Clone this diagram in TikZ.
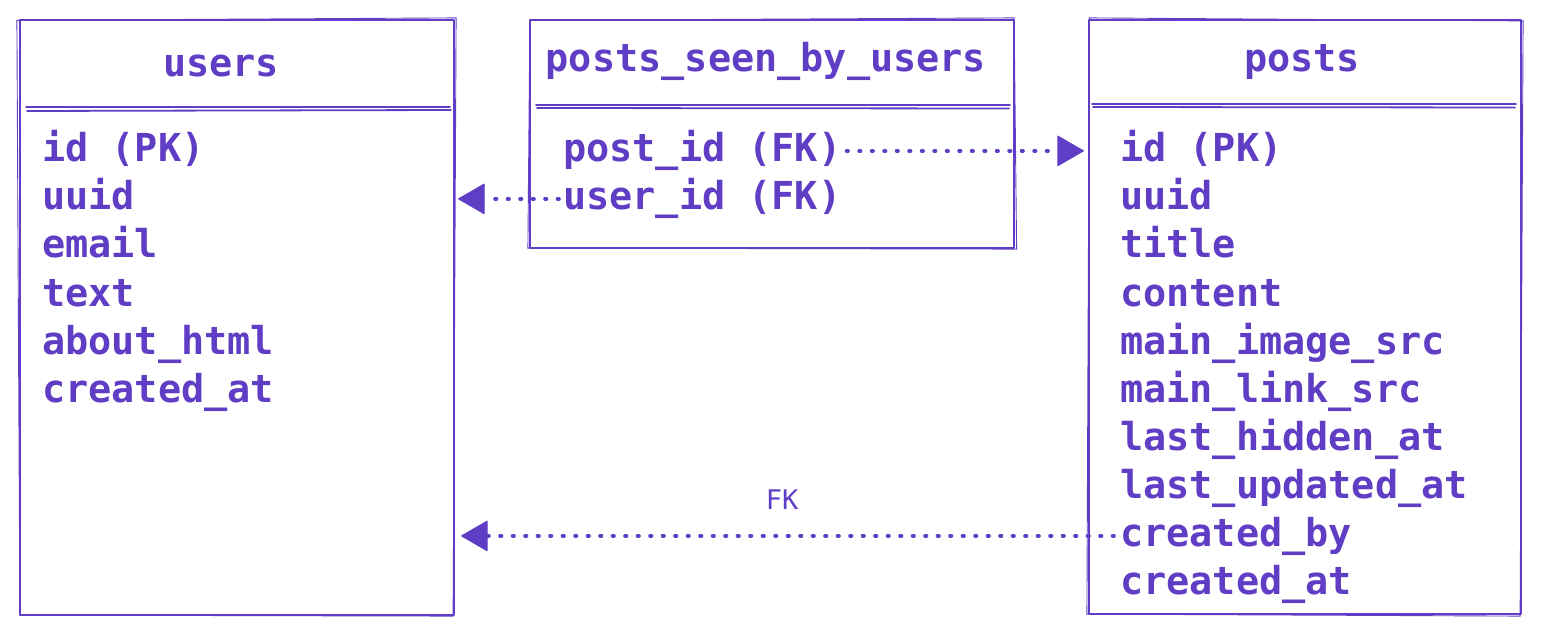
\documentclass[tikz,border=0pt]{standalone}
\usepackage{fontspec}
\newfontfamily\fmono{DejaVu Sans Mono}
\usetikzlibrary{arrows.meta}
\definecolor{vio}{HTML}{5F3DC4}
\tikzset{
  tbl/.style={draw=vio, line width=2.2pt, inner sep=0pt, line join=round},
  sketch/.style={draw=vio, line width=0.9pt, line cap=round},
  sepline/.style={draw=vio, line width=1.8pt, line cap=round},
  field/.style={anchor=base west, inner sep=0pt, text=vio, font=\fmono\bfseries\fontsize{38.5}{40}\selectfont},
  head/.style={anchor=base, inner sep=0pt, text=vio, font=\fmono\bfseries\fontsize{38.5}{40}\selectfont},
  lbl/.style={inner sep=0pt, text=vio, font=\fmono\fontsize{27}{28}\selectfont},
  fk/.style={draw=vio, line width=3.6pt, line cap=round, dash pattern=on 1.5pt off 11pt,
    -{Triangle[length=27pt,width=31pt,round,line width=1pt]}},
}
\begin{document}
\begin{tikzpicture}[x=1pt,y=-1pt]
\useasboundingbox (0,0) rectangle (1542,636);
% tables
\node[tbl, minimum width=434pt, minimum height=595pt] (users) at (237,317.5) {};
\node[tbl, minimum width=484pt, minimum height=228pt] (pswu) at (772,134) {};
\node[tbl, minimum width=432pt, minimum height=594pt] (posts) at (1305,317) {};
% sketchy second strokes
\draw[sketch] ([shift={(-2,1.5)}]users.north west) -- ([shift={(1,-1)}]users.north east) -- ([shift={(-2,0)}]users.south east) -- ([shift={(1,-1)}]users.south west) -- cycle;
\draw[sketch] ([shift={(1,1.5)}]pswu.north west) -- ([shift={(-1,-1)}]pswu.north east) -- ([shift={(1.5,0)}]pswu.south east) -- ([shift={(-1,-1)}]pswu.south west) -- cycle;
\draw[sketch] ([shift={(1.5,-1)}]posts.north west) -- ([shift={(1,2)}]posts.north east) -- ([shift={(-2,1)}]posts.south east) -- ([shift={(-1,-1)}]posts.south west) -- cycle;
% header separators
\draw[sepline] (26,107) -- (450,107);
\draw[sepline] (27,111) -- (451,110);
\draw[sepline] (536,105) -- (1010,105);
\draw[sepline] (537,108) -- (1009,108.5);
\draw[sepline] (1092,104) -- (1516,104);
\draw[sepline] (1093,107) -- (1515,107.5);
% headers
\node[head] (hu) at (221,77) {users};
\node[head] (hs) at (766,72) {posts\_seen\_by\_users};
\node[head] (hp) at (1302,72) {posts};
% users fields
\node[field] (u1) at (42,162) {id (PK)};
\node[field] (u2) at (42,210) {uuid};
\node[field] (u3) at (42,258) {email};
\node[field] (u4) at (42,306) {text};
\node[field] (u5) at (42,354) {about\_html};
\node[field] (u6) at (42,402) {created\_at};
% posts_seen_by_users fields
\node[field] (pid) at (563,162) {post\_id (FK)};
\node[field] (uid) at (563,210) {user\_id (FK)};
% posts fields
\node[field] (p1) at (1120,162) {id (PK)};
\node[field] (p2) at (1120,210) {uuid};
\node[field] (p3) at (1120,258) {title};
\node[field] (p4) at (1120,306) {content};
\node[field] (p5) at (1120,354) {main\_image\_src};
\node[field] (p6) at (1120,402) {main\_link\_src};
\node[field] (p7) at (1120,450) {last\_hidden\_at};
\node[field] (p8) at (1120,498) {last\_updated\_at};
\node[field] (cby) at (1120,546) {created\_by};
\node[field] (p10) at (1120,594) {created\_at};
% connectors
\draw[fk] ([xshift=-4pt]uid.west) -- ([xshift=3pt]uid.west -| users.east);
\draw[fk] ([xshift=5pt]pid.east) -- ([xshift=-4pt]pid.east -| posts.west);
\draw[fk] ([xshift=-6pt]cby.west) -- ([xshift=6pt]cby.west -| users.east);
\node[lbl] (fklbl) at (782,500) {FK};
\end{tikzpicture}
\end{document}
